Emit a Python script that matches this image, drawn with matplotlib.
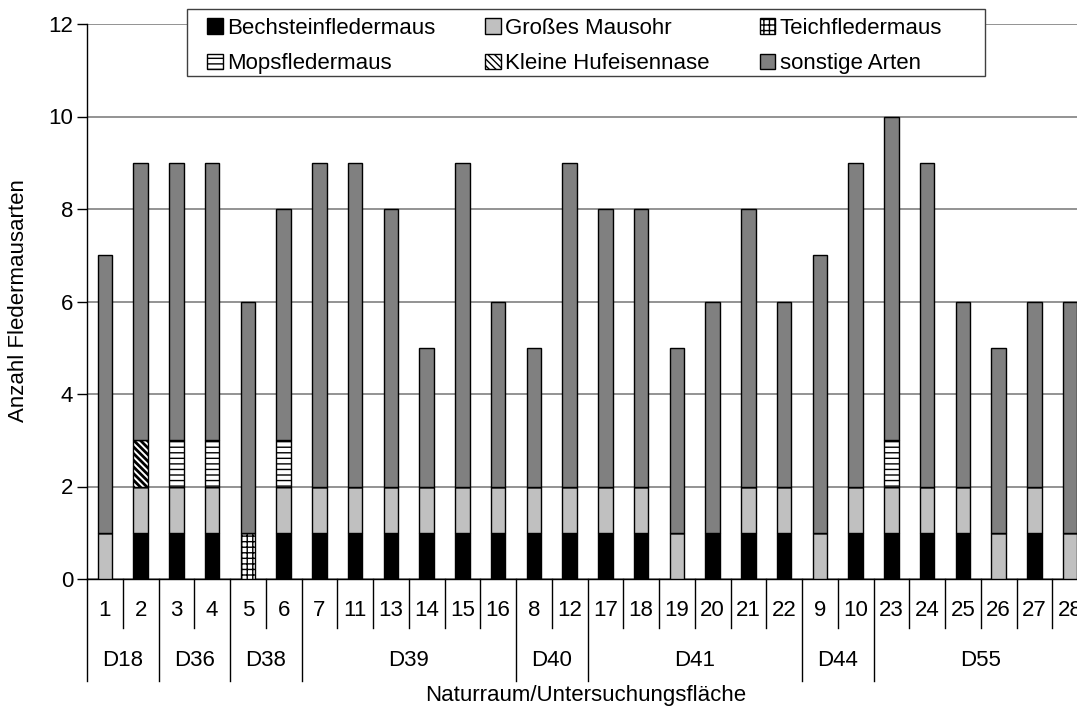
import matplotlib.pyplot as plt
import matplotlib.transforms as mtransforms
from matplotlib.patches import Patch, Rectangle
import numpy as np

plt.rcParams['font.family'] = ['Liberation Sans', 'DejaVu Sans']
plt.rcParams['hatch.linewidth'] = 1.0

# Untersuchungsflächen (Reihenfolge wie im Diagramm)
flaechen = ["1", "2", "3", "4", "5", "6", "7", "11", "13", "14", "15", "16",
            "8", "12", "17", "18", "19", "20", "21", "22", "9", "10",
            "23", "24", "25", "26", "27", "28"]

# Naturräume: Name und Anzahl Flächen
naturraum = ["D18", "D36", "D38", "D39", "D40", "D41", "D44", "D55"]
naturraum_n = [2, 2, 2, 6, 2, 6, 2, 6]

bechstein = [0, 1, 1, 1, 0, 1, 1, 1, 1, 1, 1, 1, 1, 1, 1, 1, 0, 1, 1, 1, 0, 1, 1, 1, 1, 0, 1, 0]
mausohr   = [1, 1, 1, 1, 0, 1, 1, 1, 1, 1, 1, 1, 1, 1, 1, 1, 1, 0, 1, 1, 1, 1, 1, 1, 1, 1, 1, 1]
teich     = [0, 0, 0, 0, 1, 0, 0, 0, 0, 0, 0, 0, 0, 0, 0, 0, 0, 0, 0, 0, 0, 0, 0, 0, 0, 0, 0, 0]
mops      = [0, 0, 1, 1, 0, 1, 0, 0, 0, 0, 0, 0, 0, 0, 0, 0, 0, 0, 0, 0, 0, 0, 1, 0, 0, 0, 0, 0]
hufeisen  = [0, 1, 0, 0, 0, 0, 0, 0, 0, 0, 0, 0, 0, 0, 0, 0, 0, 0, 0, 0, 0, 0, 0, 0, 0, 0, 0, 0]
sonstige  = [6, 6, 6, 6, 5, 5, 7, 7, 6, 3, 7, 4, 3, 7, 6, 6, 4, 5, 6, 4, 6, 7, 7, 7, 4, 4, 4, 5]

# name, werte, farbe, hatch, hatch-linienbreite
serien = [
    ("Bechsteinfledermaus", bechstein, "black", None, 1.0),
    ("Großes Mausohr", mausohr, "#c0c0c0", None, 1.0),
    ("Teichfledermaus", teich, "white", "+++", 1.0),
    ("Mopsfledermaus", mops, "white", "---", 1.0),
    ("Kleine Hufeisennase", hufeisen, "white", "\\\\\\\\\\", 2.0),
    ("sonstige Arten", sonstige, "#808080", None, 1.0),
]

FS = 16
W, H = 1077, 708
fig = plt.figure(figsize=(W / 100, H / 100), dpi=100)
ax_l, ax_r, ax_t, ax_b = 87, 87 + 28 * 35.75, 24, 579
ax = fig.add_axes([ax_l / W, 1 - ax_b / H, (ax_r - ax_l) / W, (ax_b - ax_t) / H])

x = np.arange(len(flaechen))
unten = np.zeros(len(flaechen))
handles = {}
for name, werte, farbe, hatch, hlw in serien:
    werte = np.array(werte, dtype=float)
    with plt.rc_context({'hatch.linewidth': hlw}):
        bars = ax.bar(x, werte, 0.4, bottom=unten, color=farbe, edgecolor="black",
                      linewidth=1.0, hatch=hatch, zorder=3)
        h = Patch(facecolor=farbe, edgecolor="black", hatch=hatch, linewidth=1.0)
    for p in list(bars) + [h]:
        if hasattr(p, "set_hatch_linewidth"):
            p.set_hatch_linewidth(hlw)
    handles[name] = h
    unten += werte

ax.set_xlim(-0.5, len(flaechen) - 0.5)
ax.set_ylim(0, 12)
ax.set_yticks(range(0, 13, 2))
ax.yaxis.grid(True, color="#808080", linewidth=1.2, zorder=0)
ax.set_axisbelow(True)
ax.tick_params(axis="y", direction="out", length=7, width=1, labelsize=FS, pad=3)
ax.set_xticks([])
for s in ["top", "right"]:
    ax.spines[s].set_visible(False)
ax.spines["left"].set_linewidth(1)
ax.spines["bottom"].set_linewidth(1)

# zweistufige Kategorienachse
trans = mtransforms.blended_transform_factory(ax.transData, ax.transAxes)
hoehe = ax_b - ax_t
y_kat = -(628 - ax_b) / hoehe
y_grp = -(681 - ax_b) / hoehe
for i, lab in enumerate(flaechen):
    ax.text(i, -(611 - ax_b) / hoehe, lab, transform=trans, ha="center", va="center", fontsize=FS)
grenzen = np.concatenate([[0], np.cumsum(naturraum_n)])
for i in range(len(flaechen) + 1):
    y_end = y_grp if i in grenzen else y_kat
    ax.plot([i - 0.5, i - 0.5], [0, y_end], transform=trans, color="black",
            linewidth=1, clip_on=False)
for name, a, b in zip(naturraum, grenzen[:-1], grenzen[1:]):
    ax.text((a + b - 1) / 2, -(661 - ax_b) / hoehe, name, transform=trans,
            ha="center", va="center", fontsize=FS)

fig.text(19 / W, 1 - 301 / H, "Anzahl Fledermausarten", rotation=90,
         ha="center", va="center", fontsize=FS)
fig.text(586 / W, 1 - 696 / H, "Naturraum/Untersuchungsfläche",
         ha="center", va="center", fontsize=FS)

# Legende: Rahmen separat, Inhalt ohne Rahmen
fig.patches.append(Rectangle((187 / W, 1 - 76 / H), (985 - 187) / W, 67 / H,
                             transform=fig.transFigure, facecolor="white",
                             edgecolor="#404040", linewidth=1, zorder=5))
reihenfolge = ["Bechsteinfledermaus", "Mopsfledermaus", "Großes Mausohr",
               "Kleine Hufeisennase", "Teichfledermaus", "sonstige Arten"]
leg = fig.legend([handles[n] for n in reihenfolge], reihenfolge, ncol=3,
                 loc="upper left", bbox_to_anchor=(207 / W, 1 - 18 / H),
                 fontsize=FS, handlelength=0.7, handleheight=0.7,
                 handletextpad=0.2, borderpad=0, labelspacing=0.64,
                 columnspacing=2.25, frameon=False, borderaxespad=0)
leg.set_zorder(6)

fig.savefig("out.png", dpi=100)
